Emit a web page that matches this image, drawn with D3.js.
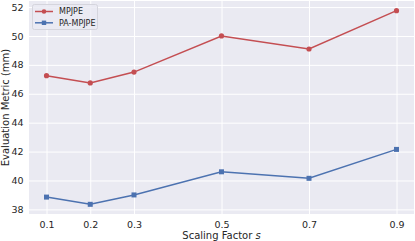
<!DOCTYPE html>
<html>
<head>
<meta charset="utf-8">
<script src="https://cdn.jsdelivr.net/npm/d3@7"></script>
<style>
  body { margin: 0; background: #fff; }
  text { font-family: "DejaVu Sans", sans-serif; fill: #262626; }
</style>
</head>
<body>
<div id="chart"></div>
<script>
// size of SVG
var w = 415;
var h = 241;

// data
var scales = [0.1, 0.2, 0.3, 0.5, 0.7, 0.9];
var mpjpe = [47.25, 46.75, 47.5, 50.0, 49.1, 51.75];
var paMpjpe = [38.85, 38.35, 39.0, 40.6, 40.15, 42.15];
var yTicks = [38, 40, 42, 44, 46, 48, 50, 52];
var seriesNames = ["MPJPE", "PA-MPJPE"];
var seriesColors = ["#C44E52", "#4C72B0"];

// plot area (note: "top" is taken by window.top)
var pLeft = 29, pRight = 414, pTop = 1, pBottom = 214;

var svg = d3.select("#chart")
  .append("svg")
  .attr("width", w)
  .attr("height", h);

var x = d3.scaleLinear().domain([0.06, 0.94]).range([pLeft, pRight]);
var y = d3.scaleLinear().domain([37.68, 52.42]).range([pBottom, pTop]);

svg.append("rect")
  .attr("x", pLeft).attr("y", pTop)
  .attr("width", pRight - pLeft).attr("height", pBottom - pTop)
  .attr("fill", "#EAEAF2");

// grid
var xAxis = d3.axisBottom(x).tickValues(scales).tickSize(-(pBottom - pTop)).tickPadding(5)
  .tickFormat(d3.format(".1f"));
var gx = svg.append("g").attr("transform", "translate(0," + pBottom + ")").call(xAxis);
var yAxis = d3.axisLeft(y).tickValues(yTicks).tickSize(-(pRight - pLeft)).tickPadding(5);
var gy = svg.append("g").attr("transform", "translate(" + pLeft + ",0)").call(yAxis);

[gx, gy].forEach(function(g) {
  g.select(".domain").remove();
  g.selectAll(".tick line").attr("stroke", "#fff").attr("stroke-width", 1);
  g.selectAll(".tick text").attr("font-size", 9.5).attr("fill", "#262626");
});
gx.selectAll(".tick text").attr("dy", "0.9em");
gy.selectAll(".tick text").attr("dx", "-0.5");

var series = [mpjpe, paMpjpe];
var line = d3.line()
  .x(function(d, i) { return x(scales[i]); })
  .y(function(d) { return y(d); });

series.forEach(function(vals, k) {
  svg.append("path")
    .datum(vals)
    .attr("d", line)
    .attr("fill", "none")
    .attr("stroke", seriesColors[k])
    .attr("stroke-width", 1.5);
});

// markers
svg.selectAll(".dot")
  .data(mpjpe)
  .enter().append("circle")
  .attr("cx", function(d, i) { return x(scales[i]); })
  .attr("cy", function(d) { return y(d); })
  .attr("r", 2.6)
  .attr("fill", seriesColors[0]);

svg.selectAll(".sq")
  .data(paMpjpe)
  .enter().append("rect")
  .attr("x", function(d, i) { return x(scales[i]) - 2.5; })
  .attr("y", function(d) { return y(d) - 2.5; })
  .attr("width", 5).attr("height", 5)
  .attr("fill", seriesColors[1]);

// legend
var lg = svg.append("g");
lg.append("rect")
  .attr("x", 32.5).attr("y", 4.5).attr("width", 65).attr("height", 25).attr("rx", 2)
  .attr("fill", "#EAEAF2").attr("stroke", "#d5d5dd").attr("stroke-width", 1).attr("fill-opacity", 0.8);
seriesNames.forEach(function(name, k) {
  var ly = 11.5 + k * 11.3;
  lg.append("line")
    .attr("x1", 35).attr("x2", 53).attr("y1", ly).attr("y2", ly)
    .attr("stroke", seriesColors[k]).attr("stroke-width", 1.5);
  if (k == 0) {
    lg.append("circle").attr("cx", 44).attr("cy", ly).attr("r", 2.3).attr("fill", seriesColors[k]);
  } else {
    lg.append("rect").attr("x", 41.8).attr("y", ly - 2.2).attr("width", 4.4).attr("height", 4.4)
      .attr("fill", seriesColors[k]);
  }
  lg.append("text")
    .attr("x", 59).attr("y", ly).attr("dy", "0.35em")
    .attr("font-size", 8).text(name);
});

// axis labels
svg.append("text")
  .attr("x", (pLeft + pRight) / 2).attr("y", 239)
  .attr("text-anchor", "middle").attr("font-size", 10)
  .html('Scaling Factor <tspan font-style="italic">s</tspan>');

svg.append("text")
  .attr("transform", "translate(9," + ((pTop + pBottom) / 2) + ") rotate(-90)")
  .attr("text-anchor", "middle").attr("font-size", 10)
  .text("Evaluation Metric (mm)");
</script>
</body>
</html>
